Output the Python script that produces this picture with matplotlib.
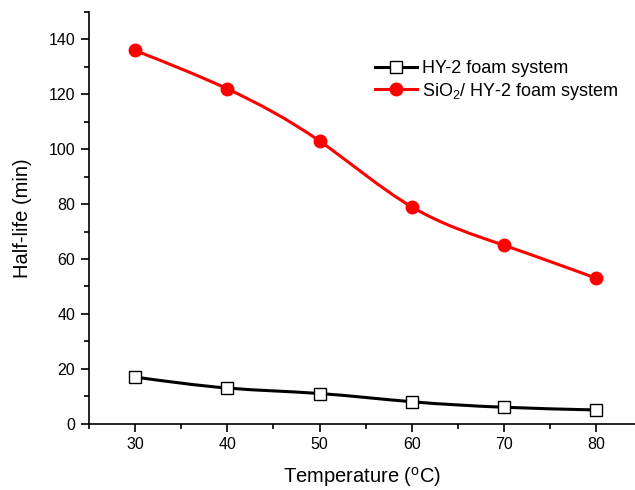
import matplotlib
matplotlib.use('Agg')
import numpy as np
import matplotlib.pyplot as plt
from matplotlib.path import Path
from matplotlib.patches import PathPatch
from matplotlib.lines import Line2D
from matplotlib.ticker import MultipleLocator

plt.rcParams['font.family'] = ['Liberation Sans', 'DejaVu Sans']
plt.rcParams['mathtext.fontset'] = 'custom'
plt.rcParams['mathtext.rm'] = 'Liberation Sans'
plt.rcParams['mathtext.it'] = 'Liberation Sans:italic'

temperature = [30, 40, 50, 60, 70, 80]
hy2_half_life = [17, 13, 11, 8, 6, 5]
sio2_half_life = [136, 122, 103, 79, 65, 53]
series_labels = ['HY-2 foam system', 'SiO$_2$/ HY-2 foam system']


def spline_path(xs, ys):
    """Natural cubic spline through the points, as bezier segments"""
    x = np.asarray(xs, float)
    y = np.asarray(ys, float)
    n = len(x)
    h = np.diff(x)
    # solve for second derivatives (natural end conditions)
    A = np.zeros((n, n))
    b = np.zeros(n)
    A[0, 0] = A[-1, -1] = 1
    for i in range(1, n - 1):
        A[i, i - 1] = h[i - 1]
        A[i, i] = 2 * (h[i - 1] + h[i])
        A[i, i + 1] = h[i]
        b[i] = 6 * ((y[i + 1] - y[i]) / h[i] - (y[i] - y[i - 1]) / h[i - 1])
    M = np.linalg.solve(A, b)
    # first derivatives at the nodes
    d = np.zeros(n)
    for i in range(n - 1):
        d[i] = (y[i + 1] - y[i]) / h[i] - h[i] * (2 * M[i] + M[i + 1]) / 6
    d[-1] = (y[-1] - y[-2]) / h[-1] + h[-1] * (M[-2] + 2 * M[-1]) / 6
    verts = [(x[0], y[0])]
    codes = [Path.MOVETO]
    for i in range(n - 1):
        k = h[i] / 3
        verts += [(x[i] + k, y[i] + k * d[i]),
                  (x[i + 1] - k, y[i + 1] - k * d[i + 1]),
                  (x[i + 1], y[i + 1])]
        codes += [Path.CURVE4] * 3
    return Path(verts, codes)


fig = plt.figure(figsize=(6.35, 4.9), dpi=100)
ax = fig.add_axes([0.140, 0.1353, 0.860, 0.8402])

# smooth connecting curves
ax.add_patch(PathPatch(spline_path(temperature, hy2_half_life), fill=False,
                       edgecolor='black', lw=2.2, zorder=2))
ax.add_patch(PathPatch(spline_path(temperature, sio2_half_life), fill=False,
                       edgecolor='#ff0000', lw=2.2, zorder=2))

ax.plot(temperature, hy2_half_life, 's', ms=9, mfc='white', mec='black',
        mew=1.0, zorder=3)
ax.plot(temperature, sio2_half_life, 'o', ms=9, mfc='#ff0000', mec='#ff0000',
        zorder=3)

ax.set_xlim(25, 84.2)
ax.set_ylim(0, 150)
ax.xaxis.set_minor_locator(MultipleLocator(5))
ax.yaxis.set_minor_locator(MultipleLocator(10))
ax.set_xticks(temperature)
ax.set_yticks([0, 20, 40, 60, 80, 100, 120, 140])

for side in ['top', 'right']:
    ax.spines[side].set_visible(False)
for side in ['left', 'bottom']:
    ax.spines[side].set_linewidth(1.2)
ax.tick_params(which='major', direction='out', length=5.8, width=1.2,
               labelsize=11.5, colors='black', pad=4)
ax.tick_params(which='minor', direction='out', length=3.6, width=1.2)

ax.set_xlabel('Temperature ($^{\\mathrm{o}}$C)', fontsize=14.5, labelpad=9)
ax.set_ylabel('Half-life (min)', fontsize=14.5, labelpad=12)

handles = [
    Line2D([], [], color='black', lw=2.2, marker='s', ms=9, mfc='white',
           mec='black', mew=1.0),
    Line2D([], [], color='#ff0000', lw=2.2, marker='o', ms=9,
           mfc='#ff0000', mec='#ff0000'),
]
ax.legend(handles, series_labels, loc='upper left',
          bbox_to_anchor=(0.5906, 0.8776), bbox_transform=fig.transFigure,
          frameon=False, fontsize=13, handlelength=2.3, handletextpad=0.3,
          labelspacing=0.2, borderaxespad=0, borderpad=0)

fig.savefig('out.png', dpi=100)
